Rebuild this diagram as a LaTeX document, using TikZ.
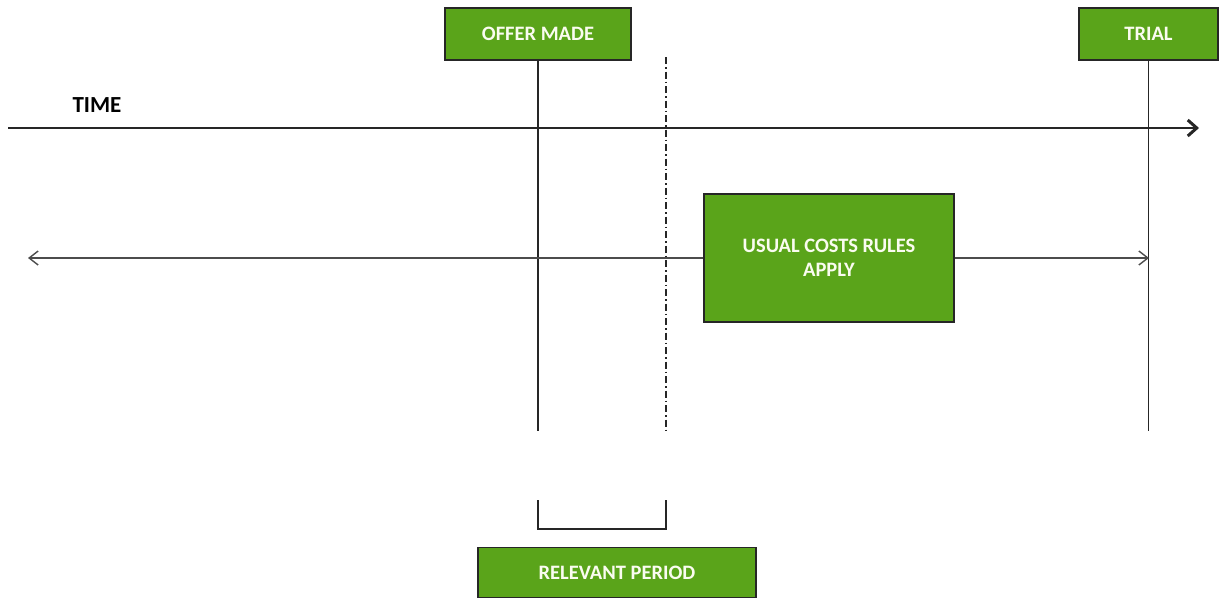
\documentclass[tikz,border=0pt]{standalone}
\usepackage{fontspec}
\setmainfont{Carlito}
\usetikzlibrary{arrows.meta,backgrounds}
\definecolor{boxgreen}{RGB}{90,164,26}
\definecolor{txtwhite}{RGB}{250,252,240}
\tikzset{
  gbox/.style={draw=black!85, line width=1.4pt, fill=boxgreen, inner sep=0pt,
    text=txtwhite, font=\fontsize{20.5}{24}\selectfont\bfseries, align=center},
  vline/.style={draw=black!85, line width=1.4pt},
}
\begin{document}
\begin{tikzpicture}[x=1pt,y=-1pt]
\useasboundingbox (0,0) rectangle (1219,598);
% boxes
\node[gbox, minimum width=186pt, minimum height=52pt] (offer) at (538,34) {OFFER MADE};
\node[gbox, minimum width=139pt, minimum height=52pt] (trial) at (1148.5,34) {TRIAL};
\node[gbox, minimum width=250pt, minimum height=128pt] (usual) at (829,258) {USUAL COSTS RULES\\APPLY};
\node[gbox, minimum width=278pt, minimum height=50pt] (relevant) at (617,572.5) {RELEVANT PERIOD};
\node[font=\fontsize{23}{26}\selectfont\bfseries, text=black] (time) at (97,105) {TIME};
% coordinates
\coordinate (tstart) at (8,128);
\coordinate (tend) at (1199,128);
\coordinate (offerbot) at (538,431);
\coordinate (ddtop) at (666,57);
\coordinate (ddbot) at (666,431);
\coordinate (trialbot) at (1148.5,431);
\coordinate (aleft) at (28,258);
\coordinate (aright) at (1149,258);
\coordinate (brl) at (538,500);
\coordinate (brr) at (666,500);
\begin{scope}[on background layer]
\draw[vline] (offer.south) -- (offerbot);
\draw[vline] (trial.south) -- (trialbot);
\draw[black!85, line width=1.4pt, dash pattern=on 7pt off 3pt on 1.5pt off 3pt] (ddtop) -- (ddbot);
\draw[black!85, line width=1.4pt, -{Straight Barb[length=9pt, width=16pt, line width=3pt]}] (tstart) -- (tend);
\draw[black!70, line width=1.4pt, {Straight Barb[length=9pt, width=14pt, line width=1.4pt]}-{Straight Barb[length=9pt, width=14pt, line width=1.4pt]}] (aleft) -- (aright);
\end{scope}
\draw[vline] (brl) |- (brl |- 0,529) -| (brr);
\end{tikzpicture}
\end{document}
